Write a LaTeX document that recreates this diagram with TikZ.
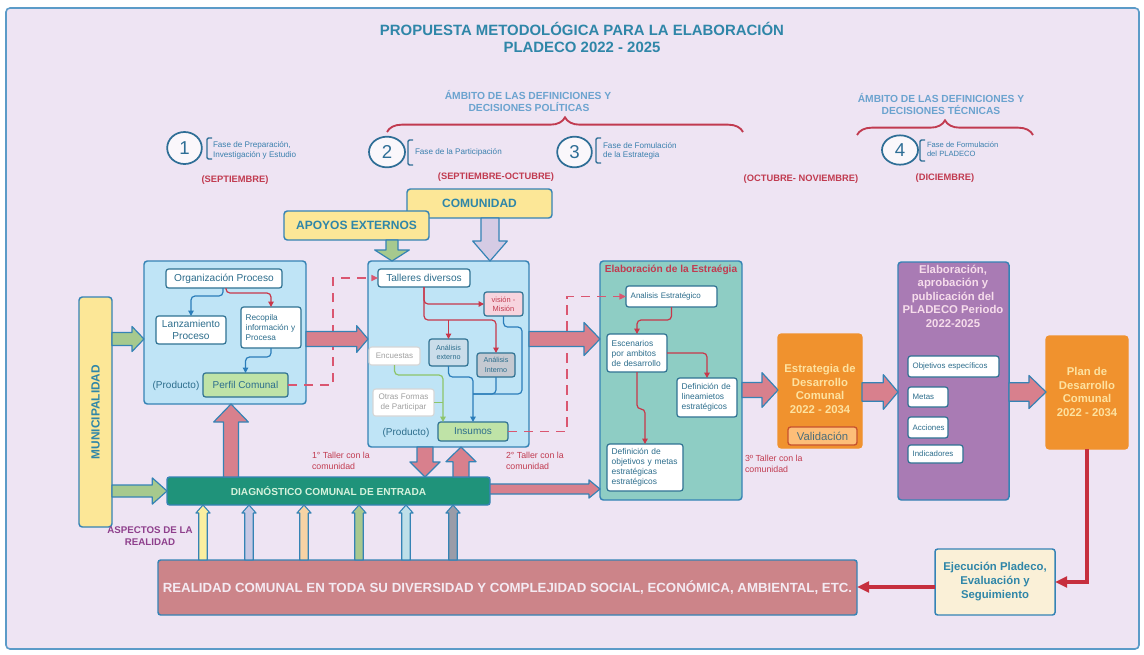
\documentclass[tikz,border=0pt]{standalone}
\usepackage{fontspec}
\setmainfont{Liberation Sans}
\usetikzlibrary{arrows.meta,decorations.pathreplacing,calc,shapes.geometric}

\definecolor{cBg}{HTML}{EEE4F3}
\definecolor{cFrame}{HTML}{5B9BC8}
\definecolor{cTitle}{HTML}{2F86A8}
\definecolor{cAmb}{HTML}{6BA3CF}
\definecolor{cRed}{HTML}{C13B50}
\definecolor{cFase}{HTML}{3B80AE}
\definecolor{cCirc}{HTML}{2E6E96}
\definecolor{cYel}{HTML}{FCE797}
\definecolor{cStroke}{HTML}{3583B5}
\definecolor{cLB}{HTML}{BFE4F6}
\definecolor{cIn}{HTML}{2E7192}
\definecolor{cTxt}{HTML}{2C6D8C}
\definecolor{cGreen}{HTML}{BFE3A7}
\definecolor{cPink}{HTML}{D8808D}
\definecolor{cGArr}{HTML}{A6C98E}
\definecolor{cLav}{HTML}{D5CBE4}
\definecolor{cDiag}{HTML}{1F937A}
\definecolor{cDiagT}{HTML}{D6F2DC}
\definecolor{cTeal}{HTML}{8ECDC4}
\definecolor{cOr}{HTML}{F0922E}
\definecolor{cOrT}{HTML}{FDE2A0}
\definecolor{cVal}{HTML}{FDBE78}
\definecolor{cValS}{HTML}{C6512E}
\definecolor{cValT}{HTML}{4C6E7A}
\definecolor{cPur}{HTML}{A97BB4}
\definecolor{cPurT}{HTML}{F6DCEB}
\definecolor{cEj}{HTML}{FAF0D7}
\definecolor{cReal}{HTML}{CC8489}
\definecolor{cRealT}{HTML}{F4EAF2}
\definecolor{cThick}{HTML}{C62F3E}
\definecolor{cAsp}{HTML}{8E3F8C}
\definecolor{cVis}{HTML}{F7D4DE}
\definecolor{cAext}{HTML}{CADDEA}
\definecolor{cAint}{HTML}{C4C9D1}
\definecolor{cGrayS}{HTML}{D6D6D6}
\definecolor{cGrayT}{HTML}{A0A0A0}
\definecolor{cLineB}{HTML}{2A7DBA}
\definecolor{cLineR}{HTML}{C8374A}
\definecolor{cLineG}{HTML}{8DC46A}
\definecolor{cDash}{HTML}{DA5670}
\definecolor{saA}{HTML}{FBEFA0}
\definecolor{saB}{HTML}{C7C8E4}
\definecolor{saC}{HTML}{F7D3A4}
\definecolor{saD}{HTML}{A8C88F}
\definecolor{saE}{HTML}{BEDFE9}
\definecolor{saF}{HTML}{9A9CA8}

\newcommand\fsz[2]{\fontsize{#1}{#2}\selectfont}
% box from pixel rectangle
\newcommand\bx[7][]{\pgfmathsetmacro\bw{(#5-#3)*0.75}\pgfmathsetmacro\bh{(#6-#4)*0.75}%
 \pgfmathsetmacro\bcx{(#3+#5)/2}\pgfmathsetmacro\bcy{(#4+#6)/2}%
 \node[#1, minimum width=\bw pt, minimum height=\bh pt] (#2) at (\bcx,\bcy) {#7};}
\newcommand\bxl[7][]{\pgfmathsetmacro\bw{(#5-#3)*0.75-7}\pgfmathsetmacro\bh{(#6-#4)*0.75}%
 \pgfmathsetmacro\bcx{(#3+#5)/2}\pgfmathsetmacro\bcy{(#4+#6)/2}%
 \node[#1, align=left, inner xsep=3.5pt, text width=\bw pt, minimum height=\bh pt] (#2) at (\bcx,\bcy) {#7};}
% block arrows
\newcommand\rarr[6][]{\path[#1] let \p1=#2, \p2=#3 in (\x1,\y1+#4) -- (\x2-#6,\y1+#4) -- (\x2-#6,\y1+#5) -- (\x2,\y1) -- (\x2-#6,\y1-#5) -- (\x2-#6,\y1-#4) -- (\x1,\y1-#4) -- cycle;}
\newcommand\uarr[6][]{\path[#1] let \p1=#2, \p2=#3 in (\x1-#4,\y1) -- (\x1-#4,\y2-#6) -- (\x1-#5,\y2-#6) -- (\x1,\y2) -- (\x1+#5,\y2-#6) -- (\x1+#4,\y2-#6) -- (\x1+#4,\y1) -- cycle;}
\newcommand\darr[6][]{\path[#1] let \p1=#2, \p2=#3 in (\x1-#4,\y1) -- (\x1-#4,\y2+#6) -- (\x1-#5,\y2+#6) -- (\x1,\y2) -- (\x1+#5,\y2+#6) -- (\x1+#4,\y2+#6) -- (\x1+#4,\y1) -- cycle;}

\tikzset{
 every node/.style={inner sep=0pt, outer sep=0pt},
 frame/.style={draw=cFrame, line width=1.2pt, fill=cBg, rounded corners=3pt},
 ttl/.style={font=\bfseries\fsz{11.2}{13}, text=cTitle, anchor=base},
 amb/.style={font=\bfseries\fsz{7.7}{9}, text=cAmb, anchor=base},
 mes/.style={font=\bfseries\fsz{7}{8}, text=cRed, anchor=base},
 fase/.style={font=\fsz{6.1}{7.4}, text=cFase, anchor=base west},
 circ/.style={ellipse, draw=cCirc, line width=1.3pt, fill=white!70!cBg, font=\fsz{14}{16}, text=cCirc},
 brk/.style={draw=cCirc, line width=1pt, rounded corners=1pt},
 brace/.style={draw=cRed, line width=1.4pt, decorate, decoration={brace, amplitude=11pt}},
 lbbox/.style={draw=cStroke, fill=cLB, line width=1.1pt, rounded corners=2.5pt},
 wbox/.style={draw=cIn, fill=white, line width=0.9pt, rounded corners=2pt, text=cTxt},
 gbox/.style={draw=cIn, fill=cGreen, line width=0.9pt, rounded corners=2pt, text=cTxt},
 pbox/.style={draw=cIn, fill=cVis, line width=0.9pt, rounded corners=2pt, text=cRed},
 aebox/.style={draw=cIn, fill=cAext, line width=0.9pt, rounded corners=2pt, text=cTxt},
 aibox/.style={draw=cIn, fill=cAint, line width=0.9pt, rounded corners=2pt, text=cTxt},
 grbox/.style={draw=cGrayS, fill=white, line width=0.8pt, rounded corners=2pt, text=cGrayT},
 ybox/.style={draw=cStroke, fill=cYel, line width=1.1pt, rounded corners=2.5pt, text=cTitle, font=\bfseries\fsz{9}{11}},
 tbox/.style={draw=cStroke, fill=cTeal, line width=1.1pt, rounded corners=2.5pt},
 obox/.style={draw=cOr, fill=cOr, line width=1pt, rounded corners=2.5pt},
 otext/.style={font=\bfseries\fsz{8.5}{10.1}, text=cOrT, align=center},
 vbox/.style={draw=cValS, fill=cVal, line width=1pt, rounded corners=2pt, text=cValT},
 pubox/.style={draw=cStroke, fill=cPur, line width=1.1pt, rounded corners=2.5pt},
 ebox/.style={draw=cStroke, fill=cEj, line width=1.1pt, rounded corners=2pt, text=cTitle},
 dbox/.style={draw=cStroke, fill=cDiag, line width=1.1pt, rounded corners=2pt, text=cDiagT},
 rbox/.style={draw=cStroke, fill=cReal, line width=1.1pt, rounded corners=2pt, text=cRealT},
 prod/.style={font=\fsz{7.5}{9}, text=cTxt, anchor=base},
 taller/.style={font=\fsz{6.6}{8.2}, text=cRed, align=left, anchor=north west},
 parr/.style={fill=cPink, draw=cStroke, line width=0.9pt, line join=round},
 garr/.style={fill=cGArr, draw=cStroke, line width=0.9pt, line join=round},
 larr/.style={fill=cLav, draw=cStroke, line width=0.9pt, line join=round},
 sarr/.style={draw=cStroke, line width=0.8pt, line join=round},
 tip/.style={-{Triangle[length=4pt,width=4pt]}},
 cb/.style={draw=cLineB, line width=0.9pt, rounded corners=3pt},
 cr/.style={draw=cLineR, line width=0.9pt, rounded corners=3pt},
 cg/.style={draw=cLineG, line width=0.9pt, rounded corners=3pt},
 cd/.style={draw=cDash, line width=1.1pt, dash pattern=on 7pt off 5pt, -{Triangle[length=5pt,width=4.5pt]}},
 thk/.style={draw=cThick, line width=3pt, -{Triangle[length=9pt,width=8pt]}},
}

\begin{document}
\begin{tikzpicture}[x=0.75pt,y=-0.75pt]
\useasboundingbox (0,0) rectangle (1144,654);
\fill[white] (0,0) rectangle (1144,654);
\path[frame] (6,8) rectangle (1139,649);

% title
\node[ttl] (t1) at (582,35) {PROPUESTA METODOLÓGICA PARA LA ELABORACIÓN};
\node[ttl] (t2) at (582,52) {PLADECO 2022 - 2025};

% ambitos
\node[amb] (a1) at (528,99) {ÁMBITO DE LAS DEFINICIONES Y};
\node[amb] (a2) at (529,111) {DECISIONES POLÍTICAS};
\node[amb] (a3) at (941,102) {ÁMBITO DE LAS DEFINICIONES Y};
\node[amb] (a4) at (941,114) {DECISIONES TÉCNICAS};
\draw[brace] (387,132) -- (743,132);
\draw[brace] (857,135) -- (1033,135);

% phases
\node[circ, minimum width=26pt, minimum height=24pt] (c1) at (184.5,148) {1};
\node[circ, minimum width=27pt, minimum height=23pt] (c2) at (387,152) {2};
\node[circ, minimum width=26pt, minimum height=23pt] (c3) at (574.5,152) {3};
\node[circ, minimum width=27pt, minimum height=22pt] (c4) at (900,150) {4};
\draw[brk] (212,138) -- (207,138) -- (207,159) -- (212,159);
\draw[brk] (413,140) -- (408,140) -- (408,165) -- (413,165);
\draw[brk] (601,138) -- (596,138) -- (596,163) -- (601,163);
\draw[brk] (925,140) -- (920,140) -- (920,161) -- (925,161);
\node[fase] (f1a) at (213,147) {Fase de Preparación,};
\node[fase] (f1b) at (213,157) {Investigación y Estudio};
\node[fase] (f2) at (415,154) {Fase de la Participación};
\node[fase] (f3a) at (603,148) {Fase de Fomulación};
\node[fase] (f3b) at (603,157.5) {de la Estrategia};
\node[fase, font=\fsz{5.7}{7}] (f4a) at (927,147) {Fase de Formulación};
\node[fase, font=\fsz{5.7}{7}] (f4b) at (927,156) {del PLADECO};
\node[mes] (m1) at (235,182) {(SEPTIEMBRE)};
\node[mes] (m2) at (496,179.5) {(SEPTIEMBRE-OCTUBRE)};
\node[mes] (m3) at (801,181) {(OCTUBRE- NOVIEMBRE)};
\node[mes] (m4) at (945,180) {(DICIEMBRE)};

% top boxes
\bx[ybox]{com}{407}{189}{552}{218}{COMUNIDAD}
\bx[ybox]{apo}{284}{211}{429}{240}{APOYOS EXTERNOS}

% municipalidad
\bx[ybox]{muni}{79}{297}{112}{527}{}
\node[rotate=90, font=\bfseries\fsz{8.9}{10}, text=cTitle] (munit) at (muni.center) {MUNICIPALIDAD};

% box 1
\bx[lbbox]{b1}{144}{261}{306}{404}{}
\bx[wbox, font=\fsz{7.6}{9}]{org}{166}{269}{282}{288}{Organización Proceso}
\bx[wbox, align=center, font=\fsz{7.6}{8.6}]{lanz}{156}{316}{226}{344}{Lanzamiento\\Proceso}
\bxl[wbox, font=\fsz{6.2}{7.5}]{recop}{241}{307}{301}{348}{Recopila\\información y\\Procesa}
\bx[gbox, font=\fsz{7.5}{9}]{perfil}{203}{373}{288}{397}{Perfil Comunal}
\node[prod] (prod1) at (176,388) {(Producto)};

% box 2
\bx[lbbox]{b2}{368}{261}{529}{447}{}
\bx[wbox, font=\fsz{7.6}{9}]{tall}{378}{269}{470}{287}{Talleres diversos}
\bx[pbox, align=center, font=\fsz{5.6}{7}]{vis}{484}{292}{523}{316}{visión -\\Misión}
\bx[aebox, align=center, font=\fsz{5.4}{7}]{aext}{429}{339}{468}{366}{Análisis\\externo}
\bx[aibox, align=center, font=\fsz{5.4}{7}]{aint}{477}{353}{515}{377}{Análisis\\Interno}
\bx[grbox, font=\fsz{6}{7}]{enc}{369}{347}{420}{365}{Encuestas}
\bx[grbox, align=center, font=\fsz{6.1}{7.6}]{otras}{373}{389}{434}{416}{Otras Formas\\de Participar}
\bx[gbox, font=\fsz{7.5}{9}]{ins}{438}{422}{508}{441}{Insumos}
\node[prod] (prod2) at (406,435) {(Producto)};

% box 3
\bx[tbox]{b3}{600}{261}{742}{500}{}
\node[font=\bfseries\fsz{7.6}{9}, text=cRed, anchor=base] (b3t) at (671,272) {Elaboración de la Estraégia};
\bxl[wbox, font=\fsz{6}{7}]{ae}{626}{286}{717}{307}{Analisis Estratégico}
\bxl[wbox, font=\fsz{6.3}{7.5}]{esc}{607}{334}{667}{372}{Escenarios\\por ambitos\\de desarrollo}
\bxl[wbox, font=\fsz{6.3}{7.5}]{lin}{677}{378}{737}{417}{Definición de\\lineamietos\\estratégicos}
\bxl[wbox, font=\fsz{6.3}{7.5}]{obj}{607}{444}{683}{491}{Definición de\\objetivos y metas\\estratégicas\\estratégicos}

% estrategia
\bx[obox]{est}{778}{334}{862}{448}{}
\node[otext] (estt) at (820,389) {Estrategia de\\Desarrollo\\Comunal\\2022 - 2034};
\bx[vbox, font=\fsz{8.5}{10}]{val}{788}{427}{857}{445}{Validación}

% purple
\bx[pubox]{pur}{898}{262}{1009}{500}{}
\node[font=\bfseries\fsz{8.5}{10.1}, text=cPurT, align=center] (purt) at (953,296) {Elaboración,\\aprobación y\\publicación del\\PLADECO Periodo\\2022-2025};
\bxl[wbox, font=\fsz{5.9}{7}]{oe}{908}{356}{999}{377}{Objetivos específicos}
\bxl[wbox, font=\fsz{5.9}{7}]{met}{908}{387}{948}{407}{Metas}
\bxl[wbox, font=\fsz{5.9}{7}]{acc}{908}{417}{948}{438}{Acciones}
\bxl[wbox, font=\fsz{5.9}{7}]{ind}{908}{445}{963}{463}{Indicadores}

% plan
\bx[obox]{plan}{1046}{336}{1128}{449}{}
\node[otext] (plant) at (1087,392) {Plan de\\Desarrollo\\Comunal\\2022 - 2034};

% ejecucion
\bx[ebox, align=center, font=\bfseries\fsz{8.5}{10.5}]{ejec}{935}{549}{1055}{615}{Ejecución Pladeco,\\Evaluación y\\Seguimiento}

% diagnostico
\bx[dbox, font=\bfseries\fsz{7.6}{9}]{diag}{167}{477}{490}{505}{DIAGNÓSTICO COMUNAL DE ENTRADA}

% realidad
\bx[rbox, font=\bfseries\fsz{9.95}{11}]{real}{158}{560}{857}{615}{REALIDAD COMUNAL EN TODA SU DIVERSIDAD Y COMPLEJIDAD SOCIAL, ECONÓMICA, AMBIENTAL, ETC.}

% labels
\node[taller] (tl1) at (312,452) {1° Taller con la\\comunidad};
\node[taller] (tl2) at (506,452) {2° Taller con la\\comunidad};
\node[taller] (tl3) at (745,455) {3º Taller con la\\comunidad};
\node[font=\bfseries\fsz{7.3}{9}, text=cAsp, align=center] (asp) at (150,536) {ASPECTOS DE LA\\REALIDAD};

% inner connectors box 1
\draw[cb, tip] (org.south -| 223,0) |- (lanz.north |- 0,296) -- (lanz.north);
\draw[cr, tip] (org.south -| 226,0) |- (recop.north |- 0,293) -- (recop.north);
\draw[cb, tip] (recop.south) |- (perfil.north |- 0,357) -- (perfil.north);

% inner connectors box 2
\coordinate (j1) at (424,320);
\coordinate (j2) at (473,394);
\draw[cr, tip] (tall.south -| j1) |- (vis.west);
\draw[cr, tip] (tall.south -| j1) -- (j1) -| (aint.north);
\draw[cr, tip] (j1 -| aext.north) -- (aext.north);
\draw[cb, tip] (aext.south) |- (ins.north |- 0,377) -- (ins.north);
\draw[cb] (aint.south) |- (j2);
\draw[cb] (vis.south) |- (522,327) |- (j2);
\draw[cg, tip] (enc.south) |- (443,375) -- (ins.north -| 443,0);
\draw[cg] (otras.east) -- (otras.east -| 443,0);

% inner connectors box 3
\draw[cr, tip] (ae.south) |- (esc.north |- 0,320) -- (esc.north);
\draw[cr, tip] (esc.east |- 0,353) -| (lin.north);
\draw[cr, tip] (esc.south) |- (obj.north |- 0,409) -- (obj.north);

% dashed
\draw[cd] (perfil.east) -| (333,278) -- (tall.west);
\draw[cd] (ins.east) -| (567,296.5) -- (ae.west);

% block arrows
\rarr[garr]{(muni.east |- 0,339)}{(b1.west |- 0,339)}{4.9pt}{9.4pt}{9pt}
\rarr[garr]{(muni.east |- 0,491)}{(diag.west |- 0,491)}{4.5pt}{9.8pt}{11pt}
\rarr[parr]{(b1.east |- 0,339)}{(b2.west |- 0,339)}{5.6pt}{10pt}{8.5pt}
\rarr[parr]{(b2.east |- 0,339)}{(b3.west |- 0,339)}{5.6pt}{12.4pt}{12pt}
\rarr[parr]{(b3.east |- 0,390)}{(est.west |- 0,390)}{5.6pt}{13pt}{12pt}
\rarr[parr]{(est.east |- 0,392)}{(pur.west |- 0,392)}{7pt}{13pt}{11pt}
\rarr[parr]{(pur.east |- 0,392)}{(plan.west |- 0,392)}{7pt}{12.4pt}{12.8pt}
\rarr[parr]{(diag.east |- 0,489)}{(b3.west |- 0,489)}{3.8pt}{6.8pt}{8.3pt}
\uarr[parr]{(diag.north -| 231,0)}{(b1.south -| 231,0)}{5.6pt}{13pt}{13.5pt}
\darr[parr]{(b2.south -| 425,0)}{(diag.north -| 425,0)}{6pt}{11.3pt}{11.3pt}
\uarr[parr]{(diag.north -| 461,0)}{(b2.south -| 461,0)}{6pt}{11.3pt}{11pt}
\darr[garr]{(apo.south -| 392,0)}{(b2.north -| 392,0)}{4.5pt}{13pt}{8.3pt}
\darr[larr]{(com.south -| 490,0)}{(b2.north -| 490,0)}{6.8pt}{13pt}{15pt}

\foreach \xx/\cc in {203/saA, 249/saB, 304/saC, 359/saD, 406/saE, 453/saF}{
  \uarr[sarr, fill=\cc]{(real.north -| \xx,0)}{(diag.south -| \xx,0)}{3.2pt}{5.3pt}{6pt}
}

% thick red
\draw[thk] (plan.south) |- (ejec.east);
\draw[thk] (ejec.west |- 0,587) -- (real.east |- 0,587);
\end{tikzpicture}
\end{document}
